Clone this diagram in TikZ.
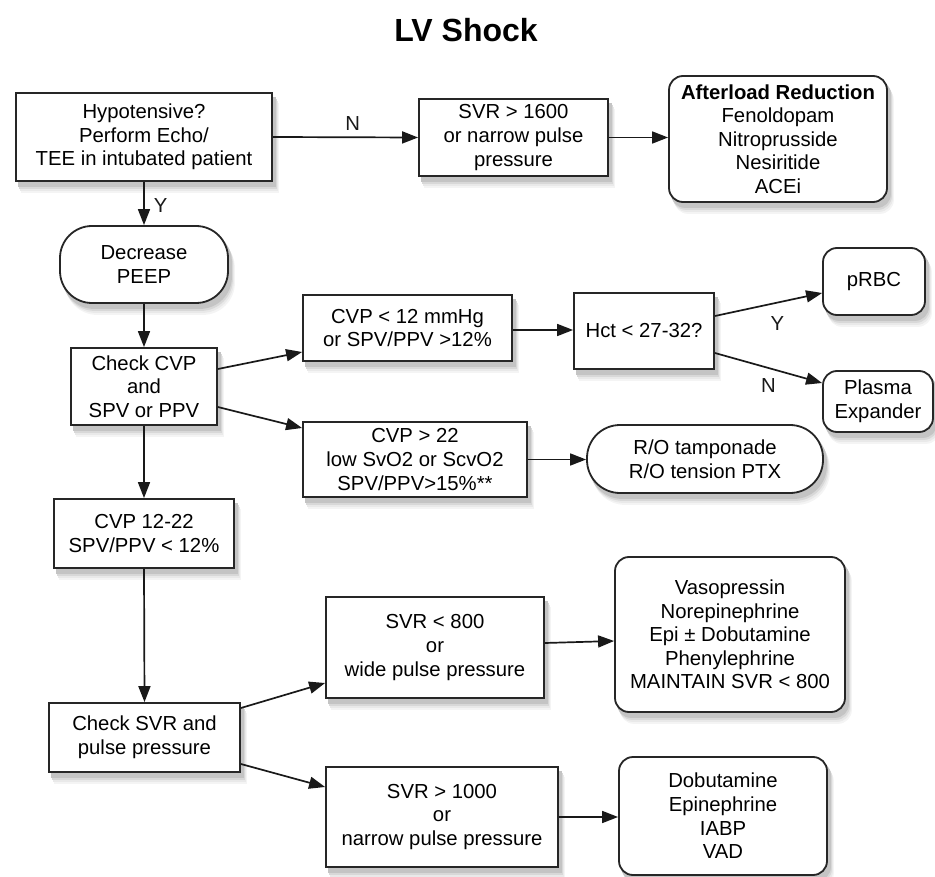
\documentclass[tikz,border=0pt]{standalone}
\usepackage{fontspec}
\setmainfont{Liberation Sans}
\usetikzlibrary{arrows.meta,calc,backgrounds}
\definecolor{shA}{RGB}{244,244,244}
\definecolor{shB}{RGB}{233,233,233}
\definecolor{shC}{RGB}{216,216,216}
\definecolor{shD}{RGB}{196,196,196}
\tikzset{
  base/.style={draw=black!85, line width=1.8pt, fill=white, align=center, inner sep=0pt,
    font=\fontsize{20.3}{23.6}\selectfont},
  sq/.style={base},
  rnd/.style={base, rounded corners=14pt},
  pill/.style={base, rounded corners=32pt},
  conn/.style={line width=1.7pt, black!90, -{Triangle[length=16pt,width=12pt]}},
  lbl/.style={font=\fontsize{20.3}{24}\selectfont, inner sep=2pt}
}
\newcommand\shd[2]{%
  \fill[shA, #2] ([xshift=6pt, yshift=-11pt]#1.south west) rectangle ([xshift=6pt, yshift=-11pt]#1.north east);
  \fill[shB, #2] ([xshift=5pt, yshift=-9pt]#1.south west) rectangle ([xshift=5pt, yshift=-9pt]#1.north east);
  \fill[shC, #2] ([xshift=4pt, yshift=-7pt]#1.south west) rectangle ([xshift=4pt, yshift=-7pt]#1.north east);
  \fill[shD, #2] ([xshift=3pt, yshift=-5pt]#1.south west) rectangle ([xshift=3pt, yshift=-5pt]#1.north east);
}
\begin{document}
\begin{tikzpicture}[x=1pt,y=-1pt]
\useasboundingbox (0,0) rectangle (935,877);
\node[font=\fontsize{32}{36}\selectfont\bfseries] (title) at (466,30) {LV Shock};

\node[sq, minimum width=256pt, minimum height=88pt] (hyp) at (144,137) {Hypotensive?\\Perform Echo/\\TEE in intubated patient};
\node[sq, minimum width=189pt, minimum height=77pt] (svra) at (513.5,137.5) {SVR > 1600\\or narrow pulse\\pressure};
\node[rnd, minimum width=218pt, minimum height=126pt] (after) at (778,139) {\textbf{Afterload Reduction}\\Fenoldopam\\Nitroprusside\\Nesiritide\\ACEi};
\node[pill, minimum width=168pt, minimum height=77pt] (peep) at (144,264.5) {Decrease\\PEEP};
\node[sq, minimum width=146pt, minimum height=77pt] (chk) at (144,386.5) {Check CVP\\and\\SPV or PPV};
\node[sq, minimum width=209pt, minimum height=66pt] (low) at (407.5,328) {CVP < 12 mmHg\\or SPV/PPV >12\%};
\node[sq, minimum width=224pt, minimum height=75pt] (high) at (415,459.5) {CVP > 22\\low SvO2 or ScvO2\\SPV/PPV>15\%**};
\node[sq, minimum width=140pt, minimum height=76pt] (hct) at (644,331) {Hct < 27-32?};
\node[rnd, minimum width=102pt, minimum height=67pt] (prbc) at (874,281.5) {pRBC};
\node[rnd, minimum width=110pt, minimum height=61pt] (plasma) at (878,401.5) {Plasma\\Expander};
\node[pill, minimum width=236pt, minimum height=68pt, rounded corners=33pt] (ro) at (705,459) {R/O tamponade\\R/O tension PTX};
\node[sq, minimum width=180pt, minimum height=69pt] (mid) at (144,533.5) {CVP 12-22\\SPV/PPV < 12\%};
\node[sq, minimum width=191pt, minimum height=69pt] (chksvr) at (144.5,737.5) {Check SVR and\\pulse pressure};
\node[sq, minimum width=218pt, minimum height=101pt] (wide) at (435,647.5) {SVR < 800\\or\\wide pulse pressure};
\node[rnd, minimum width=230pt, minimum height=155pt] (vaso) at (730,634.5) {Vasopressin\\Norepinephrine\\Epi ± Dobutamine\\Phenylephrine\\MAINTAIN SVR < 800};
\node[sq, minimum width=232pt, minimum height=100pt] (narrow) at (442,817) {SVR > 1000\\or\\narrow pulse pressure};
\node[rnd, minimum width=208pt, minimum height=118pt] (dob) at (723,816) {Dobutamine\\Epinephrine\\IABP\\VAD};

\begin{scope}[on background layer]
\shd{hyp}{sharp corners}
\shd{svra}{sharp corners}
\shd{after}{rounded corners=14pt}
\shd{peep}{rounded corners=32pt}
\shd{chk}{sharp corners}
\shd{low}{sharp corners}
\shd{high}{sharp corners}
\shd{hct}{sharp corners}
\shd{prbc}{rounded corners=14pt}
\shd{plasma}{rounded corners=14pt}
\shd{ro}{rounded corners=33pt}
\shd{mid}{sharp corners}
\shd{chksvr}{sharp corners}
\shd{wide}{sharp corners}
\shd{vaso}{rounded corners=14pt}
\shd{narrow}{sharp corners}
\shd{dob}{rounded corners=14pt}
\end{scope}

\draw[conn] (hyp.east) -- node[lbl, above=4pt, pos=0.55] {N} (svra.west);
\draw[conn] (svra.east) -- (svra.east -| after.west);
\draw[conn] (hyp.south) -- node[lbl, right=7pt, pos=0.55] {Y} (peep.north);
\draw[conn] (peep.south) -- (chk.north);
\draw[conn] ([yshift=17.5pt]chk.east) -- ([yshift=-24pt]low.west);
\draw[conn] ([yshift=-20.5pt]chk.east) -- ([yshift=31.5pt]high.west);
\draw[conn] ([yshift=-2pt]low.east) -- ([yshift=-2pt]low.east -| hct.west);
\draw[conn] ([yshift=15pt]hct.east) -- node[lbl, below=9pt, xshift=9pt, pos=0.5] {Y} ([yshift=-11.5pt]prbc.west);
\draw[conn] ([yshift=-22pt]hct.east) -- node[lbl, below=8pt, pos=0.5] {N} ([yshift=18.5pt]plasma.west);
\draw[conn] (high.east) -- (high.east -| ro.west);
\draw[conn] (chk.south) -- (mid.north);
\draw[conn] (mid.south) -- (chksvr.north);
\draw[conn] ([yshift=29.5pt]chksvr.east) -- ([yshift=-35.5pt]wide.west);
\draw[conn] ([yshift=-26.5pt]chksvr.east) -- ([yshift=30pt]narrow.west);
\draw[conn] ([yshift=4.5pt]wide.east) -- ([yshift=-6.5pt]vaso.west);
\draw[conn] (narrow.east) -- (narrow.east -| dob.west);
\end{tikzpicture}
\end{document}
